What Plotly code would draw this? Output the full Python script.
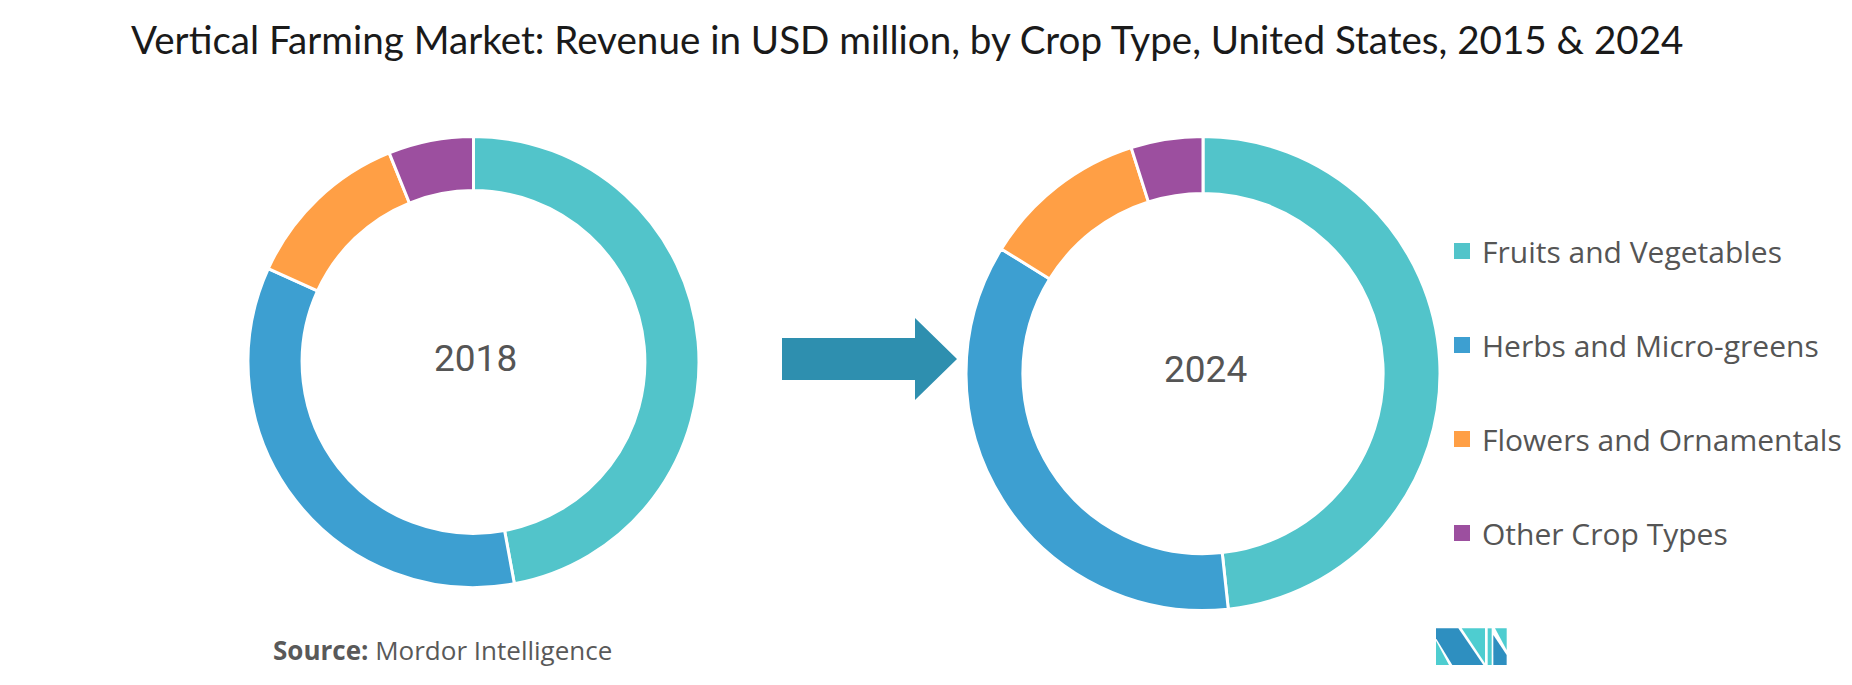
import plotly.graph_objects as go

W, H = 1852, 685

categories = ["Fruits and Vegetables", "Herbs and Micro-greens", "Flowers and Ornamentals", "Other Crop Types"]
share_2018 = [47.1, 34.7, 12.1, 6.1]
share_2024 = [48.3, 35.5, 11.3, 4.9]
year_labels = ["2018", "2024"]
colors = ["#52C4CA", "#3D9FD1", "#FF9F45", "#9C4F9F"]

def px(x):
    return x / W

def py(y):
    return 1 - y / H

fig = go.Figure()

# donuts: (center x, center y, radius) in pixels
geo = [(473.5, 362.0, 225.5), (1203.0, 373.5, 237.0)]
for vals, (cx, cy, r) in zip([share_2018, share_2024], geo):
    fig.add_trace(go.Pie(
        labels=categories, values=vals, hole=0.76, sort=False,
        direction="clockwise", rotation=0,
        marker=dict(colors=colors, line=dict(color="white", width=3)),
        textinfo="none", hoverinfo="label+percent", showlegend=False,
        domain=dict(x=[px(cx - r), px(cx + r)], y=[py(cy + r), py(cy - r)]),
    ))

# legend entries
for i, (lab, c) in enumerate(zip(categories, colors)):
    fig.add_trace(go.Scatter(
        x=[None], y=[None], mode="markers", name=lab,
        marker=dict(symbol="square", size=16, color=c),
        legendgroup=f"g{i}", showlegend=True,
    ))

annotations = [
    dict(text="Vertical Farming Market: Revenue in USD million, by Crop Type, United States, 2015 & 2024",
         x=px(128.5), y=py(39), xref="paper", yref="paper", xanchor="left", yanchor="middle",
         showarrow=False, font=dict(family="Lato", size=38.6, color="#1a1a1a")),
    dict(text="<b>Source:</b> Mordor Intelligence",
         x=px(271), y=py(650), xref="paper", yref="paper", xanchor="left", yanchor="middle",
         showarrow=False, font=dict(family="Open Sans", size=26, color="#595959")),
]
for lab, (cx, cy, r) in zip(year_labels, geo):
    annotations.append(dict(text=lab, x=px(cx + 2), y=py(cy - 4), xref="paper", yref="paper",
                            xanchor="center", yanchor="middle", showarrow=False,
                            font=dict(family="Roboto", size=37, color="#555555")))

def path(points):
    s = "M " + " L ".join(f"{px(x):.5f},{py(y):.5f}" for x, y in points) + " Z"
    return s

arrow = [(782, 338), (915, 338), (915, 318), (957, 359), (915, 400), (915, 380), (782, 380)]
shapes = [dict(type="path", path=path(arrow), xref="paper", yref="paper",
               fillcolor="#2E8FAF", line=dict(width=0))]

# logo
dark, light = "#2E8FC0", "#4ECDD0"
ox, oy = 1425, 620
def lp(pts):
    return [(ox + X / 3, oy + Y / 3) for X, Y in pts]
logo = [
    (lp([(33, 62), (33, 135), (72, 135)]), light),
    (lp([(33, 25), (100, 25), (175, 135), (82, 135), (33, 55)]), dark),
    (lp([(110, 25), (180, 25), (180, 130)]), light),
    (lp([(188, 25), (200, 25), (200, 135), (188, 135)]), light),
    (lp([(205, 45), (245, 105), (245, 135), (205, 135)]), dark),
    (lp([(210, 25), (245, 25), (245, 90)]), light),
]
for pts, c in logo:
    shapes.append(dict(type="path", path=path(pts), xref="paper", yref="paper",
                       fillcolor=c, line=dict(width=0)))

fig.update_layout(
    width=W, height=H,
    margin=dict(l=0, r=0, t=0, b=0, autoexpand=False),
    paper_bgcolor="white", plot_bgcolor="white",
    xaxis=dict(visible=False), yaxis=dict(visible=False),
    annotations=annotations, shapes=shapes,
    legend=dict(x=px(1442), y=py(225), xanchor="left", yanchor="top",
                font=dict(family="Open Sans", size=30, color="#555555"),
                tracegroupgap=52, itemsizing="trace", bgcolor="rgba(0,0,0,0)"),
    hovermode="closest",
)

fig.write_html("out.html", config={"displayModeBar": False},
               post_script="document.body.style.margin='0';document.body.style.overflow='hidden';")
